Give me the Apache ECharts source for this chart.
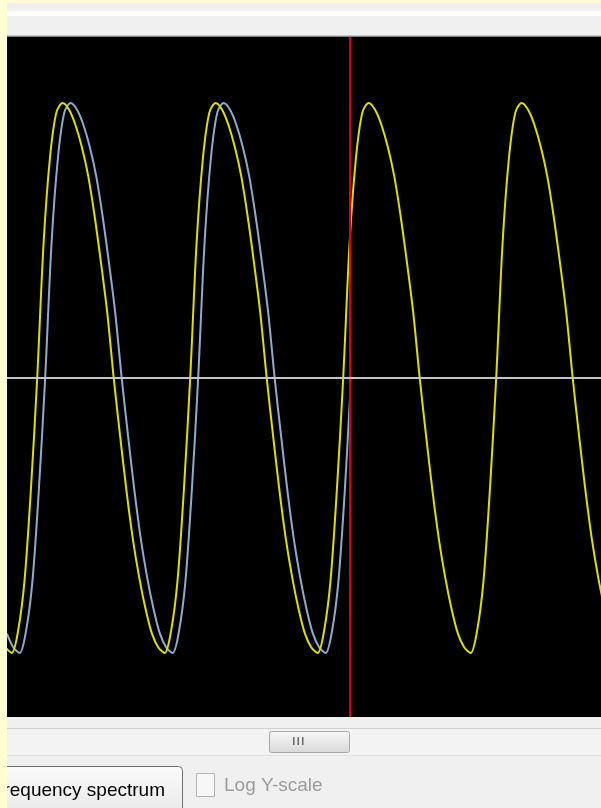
<!DOCTYPE html>
<html><head><meta charset="utf-8">
<script src="https://cdn.jsdelivr.net/npm/echarts@6/dist/echarts.min.js"></script>
<style>html,body{margin:0;padding:0;background:#F0F0F0;overflow:hidden;} #c{width:601px;height:808px;}</style>
</head><body><div id="c"></div>
<script>
// time axis in samples, amplitude in relative units
const yellowT = [-1,0,1,2,3,4,5,6,7,8,9,10,11,12,13,14,15,16,17,18,19,20,21,22,23,24,
  25,26,27,28,29,30,31,32,33,34,35,36,37,38,39,40,41,42,43,44,45,46,47,48,
  49,50,51,52,53,54,55,56,57,58,59,60,61,62,63,64,65,66,67,68,69,70,71,72,
  73,74,75,76,77,78,79,80,81,82,83,84,85,86,87,88,89,90,91,92,93];
const yellowV = [-0.98,-1.0,
  -0.92,-0.74,-0.41,0.0,0.49,0.80,0.965,1.0,
  0.975,0.92,0.84,0.735,0.59,0.42,0.235,0.0,-0.21,-0.41,-0.585,-0.725,-0.84,-0.93,-0.98,-1.0,
  -0.92,-0.74,-0.41,0.0,0.49,0.80,0.965,1.0,
  0.975,0.92,0.84,0.735,0.59,0.42,0.235,0.0,-0.21,-0.41,-0.585,-0.725,-0.84,-0.93,-0.98,-1.0,
  -0.92,-0.74,-0.41,0.0,0.49,0.80,0.965,1.0,
  0.975,0.92,0.84,0.735,0.59,0.42,0.235,0.0,-0.21,-0.41,-0.585,-0.725,-0.84,-0.93,-0.98,-1.0,
  -0.92,-0.74,-0.41,0.0,0.49,0.80,0.965,1.0,
  0.975,0.92,0.84,0.735,0.59,0.42,0.235,0.0,-0.21,-0.41,-0.585,-0.725,-0.84];
const blueT = [-0.75,0.25,1.25,2.25,3.25,4.25,5.25,6.25,7.25,8.25,9.25,10.25,11.25,12.25,13.25,
  14.25,15.25,16.25,17.25,18.25,19.25,20.25,21.25,22.25,23.25,24.25,25.25,26.25,27.25,28.25,
  29.25,30.25,31.25,32.25,33.25,34.25,35.25,36.25,37.25,38.25,39.25,40.25,41.25,42.25,43.25,
  44.25,45.25,46.25,47.25,48.25,49.25,50.25,51.25,52.25,53.07];
const blueV = [-0.93,-0.98,-1.0,
  -0.92,-0.74,-0.41,0.0,0.49,0.80,0.965,1.0,
  0.975,0.92,0.84,0.735,0.59,0.42,0.235,0.0,-0.21,-0.41,-0.585,-0.725,-0.84,-0.93,-0.98,-1.0,
  -0.92,-0.74,-0.41,0.0,0.49,0.80,0.965,1.0,
  0.975,0.92,0.84,0.735,0.59,0.42,0.235,0.0,-0.21,-0.41,-0.585,-0.725,-0.84,-0.93,-0.98,-1.0,
  -0.92,-0.74,-0.41,-0.07];
const cursorT = 53.07;
const zeroLevel = 0;
const xRange = [-0.737, 92.44];
const yRange = [-1.233, 1.24];
const buttonLabel = 'Frequency spectrum';
const checkLabel = 'Log Y-scale';

const chart = echarts.init(document.getElementById('c'), null, {renderer: 'canvas'});
const hiddenAxis = {show: false, splitLine: {show: false}, axisLine: {show: false}, axisTick: {show: false}, axisLabel: {show: false}};
const font = '"Liberation Sans", Arial, sans-serif';

chart.setOption({
  animation: false,
  grid: {left: 7, right: 0, top: 37, bottom: 91, show: true, backgroundColor: '#000000', borderWidth: 0},
  xAxis: Object.assign({type: 'value', min: xRange[0], max: xRange[1]}, hiddenAxis),
  yAxis: Object.assign({type: 'value', min: yRange[0], max: yRange[1]}, hiddenAxis),
  series: [
    {type: 'line', data: [], z: 1, silent: true,
     markLine: {silent: true, symbol: 'none', label: {show: false},
       lineStyle: {color: '#E00000', width: 2, type: 'solid'}, data: [{xAxis: cursorT}]}},
    {type: 'line', name: 'ch1', data: yellowT.map((t, i) => [t, yellowV[i]]), z: 3,
     smooth: 0.3, showSymbol: false, clip: true, lineStyle: {color: '#DEDE00', width: 2}},
    {type: 'line', name: 'ch2', data: blueT.map((t, i) => [t, blueV[i]]), z: 2,
     smooth: 0.3, showSymbol: false, clip: true, lineStyle: {color: '#8CACCC', width: 2}},
    {type: 'line', data: [], z: 4, silent: true,
     markLine: {silent: true, symbol: 'none', label: {show: false},
       lineStyle: {color: '#C4C4C4', width: 2, type: 'solid'}, data: [{yAxis: zeroLevel}]}}
  ],
  graphic: {elements: [
    {type: 'rect', z: 50, shape: {x: 7, y: 11, width: 594, height: 5}, style: {fill: '#FFFFFF'}},
    {type: 'rect', z: 50, shape: {x: 7, y: 35, width: 594, height: 1}, style: {fill: '#C8C8C8'}},
    {type: 'rect', z: 50, shape: {x: 7, y: 36, width: 594, height: 1}, style: {fill: '#808080'}},
    {type: 'rect', z: 50, shape: {x: 7, y: 728, width: 594, height: 1}, style: {fill: '#D0D0D0'}},
    {type: 'rect', z: 50, shape: {x: 7, y: 729, width: 594, height: 26}, style: {fill: '#F3F3F3'}},
    {type: 'rect', z: 50, shape: {x: 7, y: 755, width: 594, height: 1}, style: {fill: '#E2E2E2'}},
    {type: 'rect', z: 51, shape: {x: 269.5, y: 731.5, width: 80, height: 21, r: 2},
     style: {fill: new echarts.graphic.LinearGradient(0, 0, 0, 1, [{offset: 0, color: '#F8F8F8'}, {offset: 1, color: '#D8D8D8'}]), stroke: '#A8A8A8', lineWidth: 1}},
    {type: 'rect', z: 52, shape: {x: 293, y: 737, width: 1.5, height: 8}, style: {fill: '#6A6A6A'}},
    {type: 'rect', z: 52, shape: {x: 297.5, y: 737, width: 1.5, height: 8}, style: {fill: '#6A6A6A'}},
    {type: 'rect', z: 52, shape: {x: 302, y: 737, width: 1.5, height: 8}, style: {fill: '#6A6A6A'}},
    {type: 'rect', z: 51, shape: {x: -10.5, y: 766.5, width: 193, height: 60, r: 4},
     style: {fill: new echarts.graphic.LinearGradient(0, 0, 0, 1, [{offset: 0, color: '#FBFBFB'}, {offset: 1, color: '#E4E4E4'}]), stroke: '#707070', lineWidth: 1}},
    {type: 'text', z: 52, style: {text: buttonLabel, x: 165, y: 791, textAlign: 'right', textVerticalAlign: 'middle', fill: '#000000', font: '19px ' + font}},
    {type: 'rect', z: 51, shape: {x: 196.5, y: 773.5, width: 18, height: 23}, style: {fill: '#F7F7F7', stroke: '#B4B4B4', lineWidth: 1}},
    {type: 'text', z: 52, style: {text: checkLabel, x: 224, y: 786, textAlign: 'left', textVerticalAlign: 'middle', fill: '#9A9A9A', font: '19px ' + font}},
    {type: 'rect', z: 100, shape: {x: 0, y: 0, width: 7, height: 808}, style: {fill: '#FFFFD2'}},
    {type: 'rect', z: 100, shape: {x: 0, y: 0, width: 601, height: 3}, style: {fill: '#FFFFD2'}}
  ]}
});
</script></body></html>
